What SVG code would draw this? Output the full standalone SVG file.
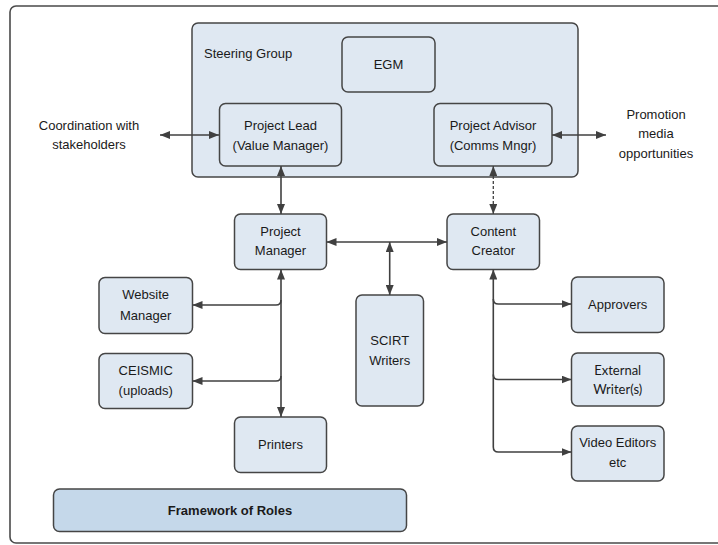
<svg xmlns="http://www.w3.org/2000/svg" width="718" height="545" viewBox="0 0 718 545">
<style>
.box{fill:#dfe8f2;stroke:#454545;stroke-width:1.5}
.t{font-family:"Liberation Sans",Arial,sans-serif;font-size:13px;fill:#1a1a1a;text-anchor:middle}
.tl{font-family:"Liberation Sans",Arial,sans-serif;font-size:13px;fill:#1a1a1a}
.tc{font-family:Lato,"Open Sans",sans-serif;font-size:13px;fill:#1a1a1a;text-anchor:middle}
.c{fill:none;stroke:#404040;stroke-width:1.6}
.d{stroke-dasharray:3 2;stroke-width:1.3}
</style>
<defs>
<marker id="ah" viewBox="0 0 10 8" refX="10" refY="4" markerWidth="10" markerHeight="8" markerUnits="userSpaceOnUse" orient="auto-start-reverse">
<path d="M0 0L10 4L0 8Z" fill="#404040"/>
</marker>
</defs>
<rect x="10" y="6" width="720" height="537" rx="6" fill="#fff" stroke="#4a4a4a" stroke-width="1.6"/>
<g id="steering-group">
<rect class="box" x="192" y="23" width="386" height="154" rx="6"/>
<text class="tl" x="204" y="58">Steering Group</text>
</g>
<g id="egm"><rect class="box" x="342" y="37" width="93" height="55" rx="6"/><text class="t" x="388.5" y="69">EGM</text></g>
<g id="project-lead"><rect class="box" x="219.5" y="103.5" width="122" height="62.5" rx="6"/><text class="t" x="280.5" y="130">Project Lead</text><text class="t" x="280.5" y="150">(Value Manager)</text></g>
<g id="project-advisor"><rect class="box" x="434" y="103.5" width="118" height="62.5" rx="6"/><text class="t" x="493" y="130">Project Advisor</text><text class="t" x="493" y="150">(Comms Mngr)</text></g>
<g id="coordination"><text class="t" x="89" y="130">Coordination with</text><text class="t" x="89" y="149">stakeholders</text></g>
<g id="promotion"><text class="t" x="656" y="119">Promotion</text><text class="t" x="656" y="138">media</text><text class="t" x="656" y="158">opportunities</text></g>
<g id="project-manager"><rect class="box" x="234.5" y="214" width="92" height="55.5" rx="6"/><text class="t" x="280.5" y="236">Project</text><text class="t" x="280.5" y="255">Manager</text></g>
<g id="content-creator"><rect class="box" x="447" y="214" width="92.5" height="55.5" rx="6"/><text class="t" x="493.3" y="236">Content</text><text class="t" x="493.3" y="255">Creator</text></g>
<g id="scirt-writers"><rect class="box" x="356" y="295" width="67.5" height="111" rx="6"/><text class="t" x="389.7" y="345">SCIRT</text><text class="t" x="389.7" y="365">Writers</text></g>
<g id="website-manager"><rect class="box" x="99" y="277.5" width="93.5" height="56" rx="6"/><text class="t" x="145.7" y="299">Website</text><text class="t" x="145.7" y="320">Manager</text></g>
<g id="ceismic"><rect class="box" x="99" y="353.5" width="93.5" height="55" rx="6"/><text class="t" x="145.7" y="375">CEISMIC</text><text class="t" x="145.7" y="395">(uploads)</text></g>
<g id="printers"><rect class="box" x="234.5" y="417" width="92" height="55.5" rx="6"/><text class="t" x="280.5" y="449">Printers</text></g>
<g id="approvers"><rect class="box" x="571.5" y="277" width="92.5" height="55.5" rx="6"/><text class="t" x="617.7" y="309">Approvers</text></g>
<g id="external-writers"><rect class="box" x="571.5" y="353" width="92.5" height="53" rx="6"/><text class="tc" x="617.7" y="375">External</text><text class="tc" x="617.7" y="394">Writer(s)</text></g>
<g id="video-editors"><rect class="box" x="571.5" y="426" width="92.5" height="55" rx="6"/><text class="t" x="617.7" y="447">Video Editors</text><text class="t" x="617.7" y="467">etc</text></g>
<g id="framework-of-roles"><rect x="53.5" y="489" width="353" height="42.5" rx="6" fill="#c5d8ea" stroke="#454545" stroke-width="1.5"/><text class="t" x="230" y="515" font-weight="bold">Framework of Roles</text></g>
<g id="connectors">
<path class="c" d="M160 135H219" marker-start="url(#ah)" marker-end="url(#ah)"/>
<path class="c" d="M552 135H606" marker-start="url(#ah)" marker-end="url(#ah)"/>
<path class="c" d="M281 166V214" marker-start="url(#ah)" marker-end="url(#ah)"/>
<path class="c d" d="M493.3 166V214" marker-start="url(#ah)" marker-end="url(#ah)"/>
<path class="c" d="M326.5 242H447" marker-start="url(#ah)" marker-end="url(#ah)"/>
<path class="c" d="M389.7 242V295" marker-start="url(#ah)" marker-end="url(#ah)"/>
<path class="c" d="M281 269.5V417" marker-start="url(#ah)" marker-end="url(#ah)"/>
<path class="c" d="M281 300Q281 305 276 305H192.5" marker-end="url(#ah)"/>
<path class="c" d="M281 376Q281 381 276 381H192.5" marker-end="url(#ah)"/>
<path class="c" d="M493.3 269.5V447Q493.3 452 498.3 452H571.5" marker-start="url(#ah)" marker-end="url(#ah)"/>
<path class="c" d="M493.3 299Q493.3 304 498.3 304H571.5" marker-end="url(#ah)"/>
<path class="c" d="M493.3 374.5Q493.3 379.5 498.3 379.5H571.5" marker-end="url(#ah)"/>
</g>
</svg>
